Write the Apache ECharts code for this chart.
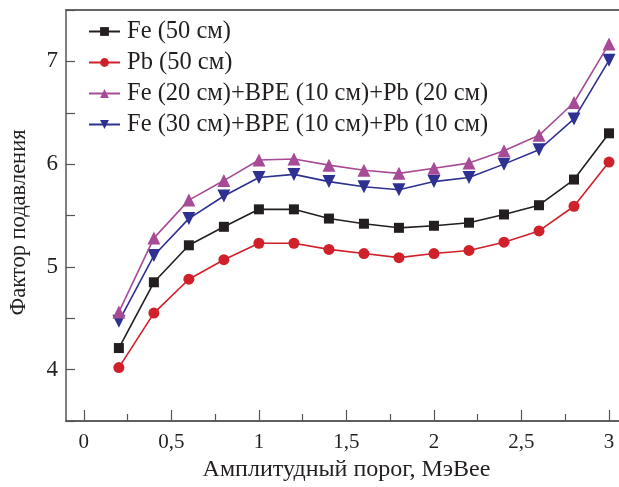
<!DOCTYPE html>
<html><head><meta charset="utf-8">
<script src="https://cdn.jsdelivr.net/npm/echarts@6/dist/echarts.min.js"></script>
<style>html,body{margin:0;padding:0;background:#fff}#c{width:619px;height:487px}</style>
</head><body><div id="c"></div>
<script>
const xValues = [0.2,0.4,0.6,0.8,1.0,1.2,1.4,1.6,1.8,2.0,2.2,2.4,2.6,2.8,3.0];
const seriesNames = ['Fe (50 см)','Pb (50 см)','Fe (20 см)+BPE (10 см)+Pb (20 см)','Fe (30 см)+BPE (10 см)+Pb (10 см)'];
const fe50 = [4.21,4.85,5.21,5.39,5.56,5.56,5.47,5.42,5.38,5.40,5.43,5.51,5.60,5.85,6.30];
const pb50 = [4.02,4.55,4.88,5.07,5.23,5.23,5.17,5.13,5.09,5.13,5.16,5.24,5.35,5.59,6.02];
const fe20bpe = [4.56,5.28,5.65,5.84,6.04,6.05,5.99,5.94,5.91,5.96,6.01,6.13,6.28,6.60,7.17];
const fe30bpe = [4.47,5.11,5.47,5.69,5.87,5.90,5.83,5.78,5.75,5.83,5.87,6.00,6.14,6.44,7.01];
const xMajorTicks = [0,0.5,1,1.5,2,2.5,3];
const xMinorTicks = [0.25,0.75,1.25,1.75,2.25,2.75];
const yLabels = [4,5,6,7];
const xTitle = 'Амплитудный порог, МэВее';
const yTitle = 'Фактор подавления';

const FONT = '"Liberation Serif","Times New Roman",serif';
const TXT = '#231f20';
const AX = '#555';
const colors = ['#231f20','#d0202a','#a84b97','#2e3192'];
const symbols = ['rect','circle','triangle','path://M0,0 L10,0 L5,9 Z'];
const symSizes = [10,11,13,13];
const datas = [fe50,pb50,fe20bpe,fe30bpe];

const chart = echarts.init(document.getElementById('c'), null, {renderer:'canvas'});
const XMIN = -0.102, XMAX = 3.057;
chart.setOption({
  animation:false,
  backgroundColor:'#fff',
  grid:{left:64,top:10,right:0,bottom:65,containLabel:false},
  legend:{
    orient:'vertical', left:88, top:19, padding:0, itemWidth:31, itemHeight:11, itemGap:6,
    textStyle:{fontFamily:FONT,fontSize:24.5,color:TXT,padding:[0,0,0,2]},
    data:seriesNames
  },
  xAxis:[
    {type:'value',min:XMIN,max:XMAX,position:'bottom',offset:0,
     axisLine:{show:true,onZero:false,lineStyle:{color:AX,width:1.5}},
     axisTick:{show:true,inside:true,length:11,customValues:xMajorTicks,lineStyle:{color:AX,width:1.2}},
     axisLabel:{customValues:xMajorTicks,fontFamily:FONT,fontSize:21,color:TXT,margin:11,
       formatter:v=>String(v).replace('.',',')},
     splitLine:{show:false},
     name:xTitle,nameLocation:'middle',nameGap:37,
     nameTextStyle:{fontFamily:FONT,fontSize:24,color:TXT,padding:[0,0,0,8]}},
    {type:'value',min:XMIN,max:XMAX,position:'bottom',offset:0,
     axisLine:{show:true,onZero:false,lineStyle:{color:AX,width:1.5}},
     axisTick:{show:true,inside:true,length:7,customValues:xMinorTicks,lineStyle:{color:AX,width:1.2}},
     axisLabel:{show:false},splitLine:{show:false}},
    {type:'value',min:XMIN,max:XMAX,position:'top',offset:0,
     axisLine:{show:true,lineStyle:{color:'#666',width:2}},
     axisTick:{show:false},axisLabel:{show:false},splitLine:{show:false}}
  ],
  yAxis:[
    {type:'value',min:3.5,max:7.5,interval:0.5,position:'left',offset:0,
     axisLine:{show:true,onZero:false,lineStyle:{color:AX,width:1.5}},
     axisTick:{show:true,inside:true,length:9,lineStyle:{color:AX,width:1.2}},
     axisLabel:{fontFamily:FONT,fontSize:23,color:TXT,margin:8,
       formatter:v=>(yLabels.indexOf(v)>=0?String(v):'')},
     splitLine:{show:false},
     name:yTitle,nameLocation:'middle',nameGap:35,
     nameTextStyle:{fontFamily:FONT,fontSize:22.5,color:TXT,padding:[0,14,0,0]}}
  ],
  series: seriesNames.map((n,i)=>({
    name:n,type:'line',xAxisIndex:0,yAxisIndex:0,
    data:xValues.map((x,j)=>[x,datas[i][j]]),
    symbol:symbols[i],symbolSize:symSizes[i],showSymbol:true,
    lineStyle:{color:colors[i],width:1.6},
    itemStyle:{color:colors[i]},
    z:10-i
  }))
});
</script></body></html>
